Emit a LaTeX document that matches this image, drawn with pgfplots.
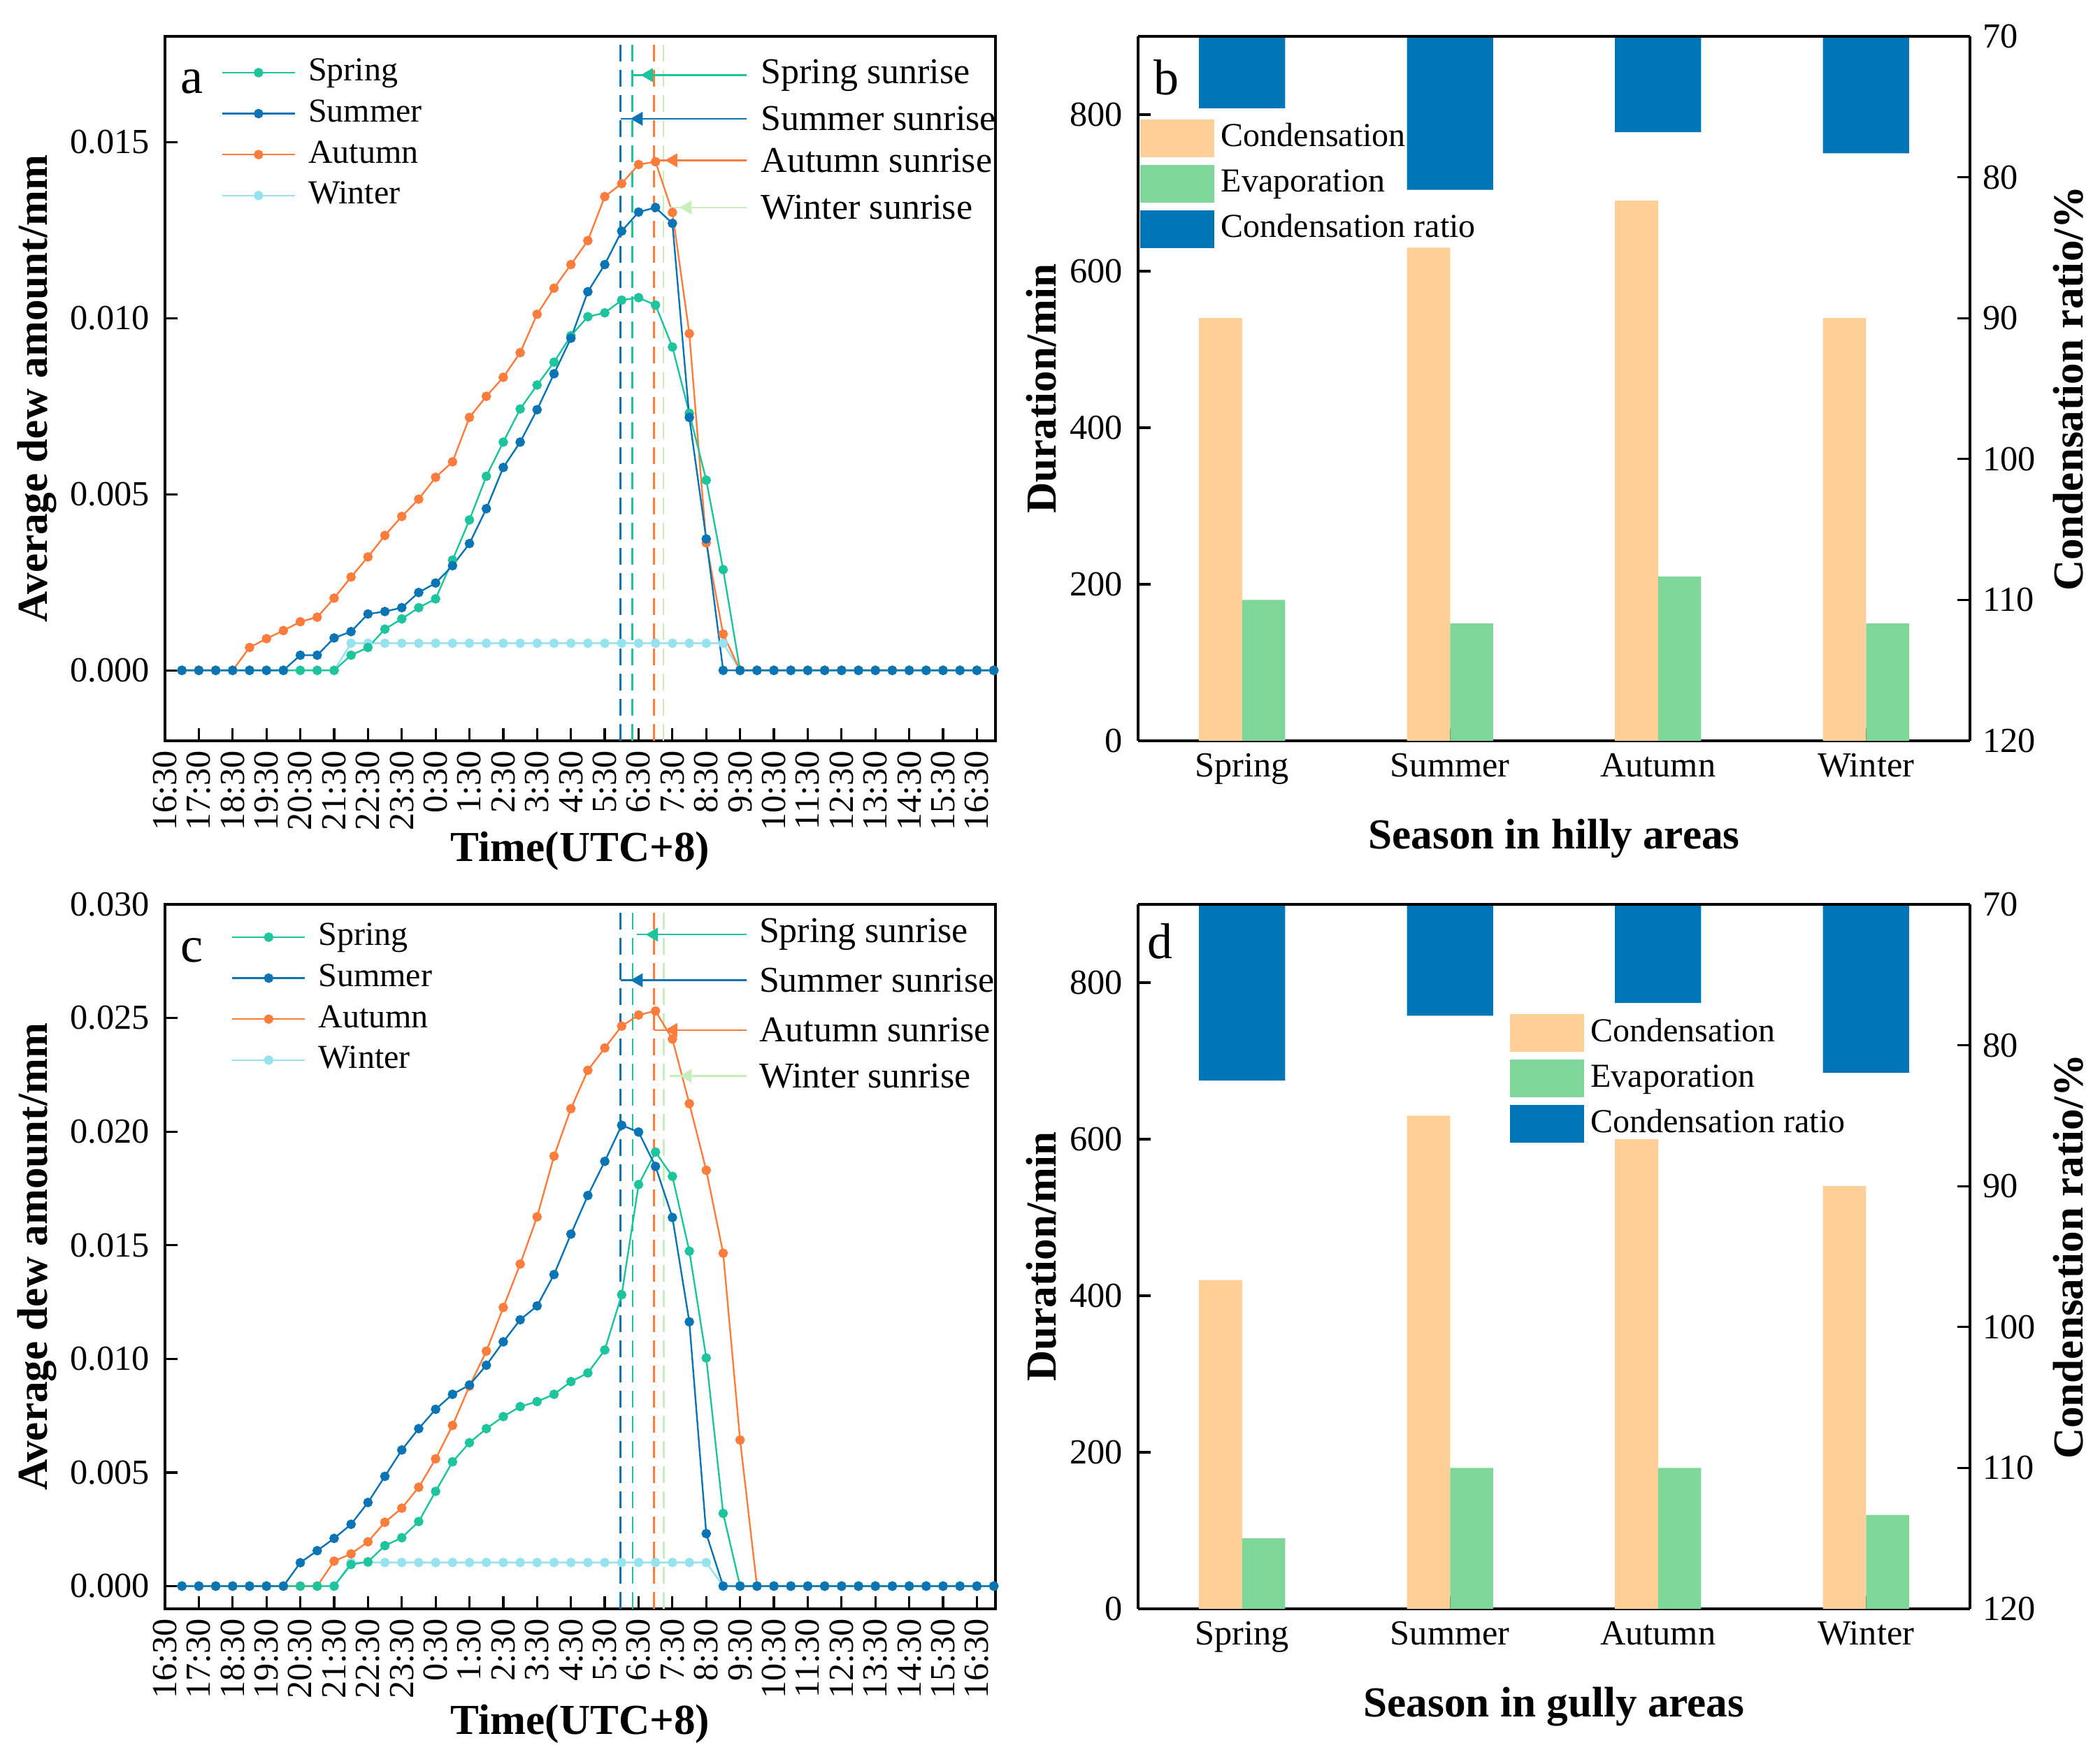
\documentclass[border=0pt]{standalone}
\usepackage{fontspec}
\setmainfont{Liberation Serif}
\usepackage{pgfplots}
\usepackage{pgfplotstable}
\pgfplotsset{compat=1.18}

\definecolor{cspring}{RGB}{30,196,155}
\definecolor{csummer}{RGB}{10,116,180}
\definecolor{cautumn}{RGB}{255,125,60}
\definecolor{cwinter}{RGB}{150,226,238}
\definecolor{cwsun}{RGB}{200,238,190}
\definecolor{ccond}{RGB}{254,208,152}
\definecolor{cevap}{RGB}{126,214,152}
\definecolor{cratio}{RGB}{0,118,182}

\newcommand{\tickfont}{\fontsize{12.6}{14}\selectfont}
\newcommand{\labfont}{\bfseries\fontsize{15.3}{18}\selectfont}
\newcommand{\legfont}{\fontsize{12}{14}\selectfont}
\newcommand{\sunfont}{\fontsize{13}{15}\selectfont}
\newcommand{\letfont}{\fontsize{18}{20}\selectfont}

% k = half-hour index (k=0 at 16:30)
\pgfplotstableread{
k sp su au wi
1 0 0 0 0
2 0 0 0 0
3 0 0 0 0
4 0 0 0 0
5 0 0 0.00065 0
6 0 0 0.0009 0
7 0 0 0.00113 0
8 0 0.00043 0.00138 0
9 0 0.00043 0.00151 0
10 0 0.00092 0.00205 0
11 0.00043 0.0011 0.00265 0.00077
12 0.00065 0.0016 0.00322 0.00077
13 0.00117 0.00167 0.00383 0.00077
14 0.00146 0.00178 0.00437 0.00077
15 0.00178 0.00221 0.00486 0.00077
16 0.00203 0.00248 0.00548 0.00077
17 0.00313 0.00297 0.00592 0.00077
18 0.00427 0.0036 0.00718 0.00077
19 0.00551 0.00459 0.00778 0.00077
20 0.00648 0.00576 0.00832 0.00077
21 0.00742 0.00648 0.00902 0.00077
22 0.0081 0.0074 0.01011 0.00077
23 0.00875 0.00842 0.01085 0.00077
24 0.0095 0.00943 0.01152 0.00077
25 0.01004 0.01075 0.0122 0.00077
26 0.01015 0.01152 0.01345 0.00077
27 0.01051 0.01247 0.01382 0.00077
28 0.01058 0.01301 0.01436 0.00077
29 0.01037 0.01314 0.01444 0.00077
30 0.00918 0.01269 0.0130 0.00077
31 0.0073 0.00718 0.00956 0.00077
32 0.0054 0.00373 0.00362 0.00077
33 0.00286 0 0.00103 0.00077
34 0 0 0 0
35 0 0 0 0
36 0 0 0 0
37 0 0 0 0
38 0 0 0 0
39 0 0 0 0
40 0 0 0 0
41 0 0 0 0
42 0 0 0 0
43 0 0 0 0
44 0 0 0 0
45 0 0 0 0
46 0 0 0 0
47 0 0 0 0
48 0 0 0 0
49 0 0 0 0
}\dataA

\pgfplotstableread{
k sp su au wi
1 0 0 0 0
2 0 0 0 0
3 0 0 0 0
4 0 0 0 0
5 0 0 0 0
6 0 0 0 0
7 0 0 0 0
8 0 0.00103 0 0
9 0 0.00156 0 0
10 0 0.0021 0.0011 0
11 0.00095 0.00272 0.00142 0.00104
12 0.00107 0.00368 0.00195 0.00104
13 0.00178 0.00483 0.00281 0.00104
14 0.00213 0.00599 0.00343 0.00104
15 0.00284 0.00693 0.00435 0.00104
16 0.00417 0.00778 0.0056 0.00104
17 0.00547 0.00844 0.00707 0.00104
18 0.00631 0.00885 0.0088 0.00104
19 0.00693 0.00972 0.01034 0.00104
20 0.00746 0.01075 0.01226 0.00104
21 0.0079 0.01172 0.01417 0.00104
22 0.00812 0.01233 0.01625 0.00104
23 0.00844 0.01371 0.01892 0.00104
24 0.009 0.01549 0.02101 0.00104
25 0.00938 0.01719 0.0227 0.00104
26 0.01039 0.01869 0.02368 0.00104
27 0.01282 0.02028 0.02464 0.00104
28 0.01767 0.01998 0.02513 0.00104
29 0.0191 0.01847 0.02531 0.00104
30 0.01803 0.01622 0.02407 0.00104
31 0.01474 0.01163 0.02123 0.00104
32 0.01004 0.00231 0.0183 0.00104
33 0.0032 0 0.01465 0
34 0 0 0.00643 0
35 0 0 0 0
36 0 0 0 0
37 0 0 0 0
38 0 0 0 0
39 0 0 0 0
40 0 0 0 0
41 0 0 0 0
42 0 0 0 0
43 0 0 0 0
44 0 0 0 0
45 0 0 0 0
46 0 0 0 0
47 0 0 0 0
48 0 0 0 0
49 0 0 0 0
}\dataC

\pgfplotsset{
  sp/.style={color=cspring, line width=0.6pt, mark=*, mark size=1.4pt, mark options={solid, fill=cspring}},
  su/.style={color=csummer, line width=0.6pt, mark=*, mark size=1.4pt, mark options={solid, fill=csummer}},
  au/.style={color=cautumn, line width=0.6pt, mark=*, mark size=1.4pt, mark options={solid, fill=cautumn}},
  wi/.style={color=cwinter, line width=0.6pt, mark=*, mark size=1.4pt, mark options={solid, fill=cwinter}},
  sunv/.style={line width=0.65pt, dash pattern=on 6pt off 3pt, forget plot},
  sunl/.style={line width=0.6pt, mark=triangle*, mark size=2.3pt, mark options={solid, rotate=90}, mark indices={2}, forget plot},
  common/.style={scale only axis, axis line style={line width=0.8pt},
    every tick/.style={black, line width=0.8pt}, major tick length=4.5pt,
    tick align=inside, enlargelimits=false,
    tick label style={font=\tickfont},
    /pgf/number format/assume math mode=true,
    label style={font=\labfont}},
  lineaxis/.style={common, tick pos=left, width=297pt, height=252pt, xmin=0, xmax=49.1,
    xtick={0,2,...,48},
    xticklabels={16:30,17:30,18:30,19:30,20:30,21:30,22:30,23:30,0:30,1:30,2:30,3:30,4:30,5:30,6:30,7:30,8:30,9:30,10:30,11:30,12:30,13:30,14:30,15:30,16:30},
    x tick label style={rotate=90, anchor=east},
    scaled y ticks=false,
    y tick label style={xshift=-2pt, /pgf/number format/.cd, fixed, fixed zerofill, precision=3, /tikz/.cd},
    clip=false,
    xlabel={Time(UTC+8)}, ylabel={Average dew amount/mm},
    ylabel style={at={(axis description cs:-0.154,0.5)}, anchor=center},
    legend style={draw=none, fill=none, font=\legfont, inner sep=0pt, row sep=2.65pt, column sep=4.5pt,
      nodes={inner sep=0pt, text height=9pt, text depth=3pt}},
    legend cell align=left,
    legend image code/.code={\draw[mark repeat=2,mark phase=2,##1] plot coordinates {(0pt,0pt) (13pt,0pt) (26pt,0pt)};}},
  baraxis/.style={common, tick pos=left, width=297.5pt, height=252pt, xmin=0.5, xmax=4.5, ymin=0, ymax=900,
    xtick={1,2,3,4}, xticklabels={Spring,Summer,Autumn,Winter},
    ytick={0,200,400,600,800}, axis y line*=left,
    x tick label style={yshift=-1pt},
    y tick label style={xshift=-2pt},
    ylabel={Duration/min},
    ylabel style={at={(axis description cs:-0.116,0.5)}, anchor=center},
    xlabel style={at={(axis description cs:0.5,-0.139)}, anchor=center},
    legend style={draw=none, fill=none, font=\legfont, inner sep=0pt, row sep=2.75pt, column sep=2.5pt,
      nodes={inner sep=0pt, text height=9pt, text depth=3pt}},
    legend cell align=left,
    legend image code/.code={\fill[##1] (0pt,-6.75pt) rectangle (26.5pt,6.75pt);}},
  ratioaxis/.style={common, width=297.5pt, height=252pt, xmin=0.5, xmax=4.5, ymin=70, ymax=120,
    y dir=reverse, ytick={70,80,90,100,110,120}, axis x line=none, axis y line*=right,
    ytick pos=right, yticklabel pos=right,
    y tick label style={xshift=1pt},
    ylabel={Condensation ratio/\%},
    ylabel style={at={(axis description cs:1.118,0.5)}, anchor=center}},
}

\begin{document}
\begin{tikzpicture}
\useasboundingbox (0,0) rectangle (751pt,628.25pt);

%================ panel a
\begin{axis}[lineaxis, at={(59pt,363.25pt)}, anchor=south west,
  ymin=-0.002, ymax=0.018, ytick={0,0.005,0.010,0.015},
  xlabel style={at={(axis description cs:0.5,-0.157)}, anchor=center},
  legend style={at={(rel axis cs:0.0672,0.973)}, anchor=north west}]
\addlegendimage{sp}\addlegendentry{Spring}
\addlegendimage{su}\addlegendentry{Summer}
\addlegendimage{au}\addlegendentry{Autumn}
\addlegendimage{wi}\addlegendentry{Winter}
\addplot[sunv, color=csummer] coordinates {(26.93,-0.002) (26.93,0.018)};
\addplot[sunv, color=cspring] coordinates {(27.63,-0.002) (27.63,0.018)};
\addplot[sunv, color=cautumn] coordinates {(28.9,-0.002) (28.9,0.018)};
\addplot[sunv, color=cwsun] coordinates {(29.47,-0.002) (29.47,0.018)};
\addplot[wi, forget plot] table[x=k, y=wi] {\dataA};
\addplot[au, forget plot] table[x=k, y=au] {\dataA};
\addplot[sp, forget plot] table[x=k, y=sp] {\dataA};
\addplot[su, forget plot] table[x=k, y=su] {\dataA};
\addplot[sunl, color=cspring] coordinates {(27.63,0.0169) (28.6,0.0169) (34.4,0.0169)};
\addplot[sunl, color=csummer] coordinates {(26.93,0.01566) (28.0,0.01566) (34.4,0.01566)};
\addplot[sunl, color=cautumn] coordinates {(28.9,0.01448) (30.05,0.01448) (34.4,0.01448)};
\addplot[sunl, color=cwsun] coordinates {(29.85,0.01314) (30.9,0.01314) (34.4,0.01314)};
\node[anchor=west, inner sep=0pt, font=\sunfont] at (axis cs:35.2,0.0169) {Spring sunrise};
\node[anchor=west, inner sep=0pt, font=\sunfont] at (axis cs:35.2,0.01566) {Summer sunrise};
\node[anchor=west, inner sep=0pt, font=\sunfont] at (axis cs:35.2,0.01448) {Autumn sunrise};
\node[anchor=west, inner sep=0pt, font=\sunfont] at (axis cs:35.2,0.01314) {Winter sunrise};
\node[anchor=base west, inner sep=0pt, font=\letfont] at (rel axis cs:0.0185,0.919) {a};
\end{axis}

%================ panel c
\begin{axis}[lineaxis, at={(59pt,52.75pt)}, anchor=south west,
  ymin=-0.001, ymax=0.030, ytick={0,0.005,0.010,0.015,0.020,0.025,0.030},
  xlabel style={at={(axis description cs:0.5,-0.163)}, anchor=center},
  legend style={at={(rel axis cs:0.0794,0.978)}, anchor=north west}]
\addlegendimage{sp}\addlegendentry{Spring}
\addlegendimage{su}\addlegendentry{Summer}
\addlegendimage{au}\addlegendentry{Autumn}
\addlegendimage{wi}\addlegendentry{Winter}
\addplot[sunv, color=csummer] coordinates {(26.93,-0.001) (26.93,0.030)};
\addplot[sunv, color=cspring] coordinates {(27.65,-0.001) (27.65,0.030)};
\addplot[sunv, color=cautumn] coordinates {(28.92,-0.001) (28.92,0.030)};
\addplot[sunv, color=cwsun] coordinates {(29.5,-0.001) (29.5,0.030)};
\addplot[wi, forget plot] table[x=k, y=wi] {\dataC};
\addplot[au, forget plot] table[x=k, y=au] {\dataC};
\addplot[sp, forget plot] table[x=k, y=sp] {\dataC};
\addplot[su, forget plot] table[x=k, y=su] {\dataC};
\addplot[sunl, color=cspring] coordinates {(27.9,0.02867) (28.9,0.02867) (34.4,0.02867)};
\addplot[sunl, color=csummer] coordinates {(26.93,0.02666) (28.0,0.02666) (34.4,0.02666)};
\addplot[sunl, color=cautumn] coordinates {(28.92,0.02447) (30.05,0.02447) (34.4,0.02447)};
\addplot[sunl, color=cwsun] coordinates {(29.85,0.02245) (30.9,0.02245) (34.4,0.02245)};
\node[anchor=west, inner sep=0pt, font=\sunfont] at (axis cs:35.1,0.02867) {Spring sunrise};
\node[anchor=west, inner sep=0pt, font=\sunfont] at (axis cs:35.1,0.02666) {Summer sunrise};
\node[anchor=west, inner sep=0pt, font=\sunfont] at (axis cs:35.1,0.02447) {Autumn sunrise};
\node[anchor=west, inner sep=0pt, font=\sunfont] at (axis cs:35.1,0.02245) {Winter sunrise};
\node[anchor=base west, inner sep=0pt, font=\letfont] at (rel axis cs:0.0185,0.918) {c};
\end{axis}

%================ panel b
\begin{axis}[ratioaxis, at={(407pt,363.25pt)}, anchor=south west]
\addplot[ybar, bar width=0.414, bar shift=0, fill=cratio, draw=none] coordinates {(1,75.1) (2,80.9) (3,76.8) (4,78.3)};
\end{axis}
\begin{axis}[baraxis, at={(407pt,363.25pt)}, anchor=south west,
  xlabel={Season in hilly areas},
  legend style={at={(rel axis cs:0.0017,0.883)}, anchor=north west}]
\addlegendimage{fill=ccond, draw=none}\addlegendentry{Condensation}
\addlegendimage{fill=cevap, draw=none}\addlegendentry{Evaporation}
\addlegendimage{fill=cratio, draw=none}\addlegendentry{Condensation ratio}
\addplot[ybar, bar width=0.207, bar shift=-0.1035, fill=ccond, draw=none, forget plot] coordinates {(1,540) (2,630) (3,690) (4,540)};
\addplot[ybar, bar width=0.207, bar shift=0.1035, fill=cevap, draw=none, forget plot] coordinates {(1,180) (2,150) (3,210) (4,150)};
\node[anchor=base west, inner sep=0pt, font=\letfont] at (rel axis cs:0.0185,0.917) {b};
\end{axis}

%================ panel d
\begin{axis}[ratioaxis, at={(407pt,52.75pt)}, anchor=south west]
\addplot[ybar, bar width=0.414, bar shift=0, fill=cratio, draw=none] coordinates {(1,82.5) (2,77.9) (3,77.0) (4,81.95)};
\end{axis}
\begin{axis}[baraxis, at={(407pt,52.75pt)}, anchor=south west,
  xlabel={Season in gully areas},
  legend style={at={(rel axis cs:0.446,0.845)}, anchor=north west}]
\addlegendimage{fill=ccond, draw=none}\addlegendentry{Condensation}
\addlegendimage{fill=cevap, draw=none}\addlegendentry{Evaporation}
\addlegendimage{fill=cratio, draw=none}\addlegendentry{Condensation ratio}
\addplot[ybar, bar width=0.207, bar shift=-0.1035, fill=ccond, draw=none, forget plot] coordinates {(1,420) (2,630) (3,600) (4,540)};
\addplot[ybar, bar width=0.207, bar shift=0.1035, fill=cevap, draw=none, forget plot] coordinates {(1,90) (2,180) (3,180) (4,120)};
\node[anchor=base west, inner sep=0pt, font=\letfont] at (rel axis cs:0.011,0.923) {d};
\end{axis}
\end{tikzpicture}
\end{document}
